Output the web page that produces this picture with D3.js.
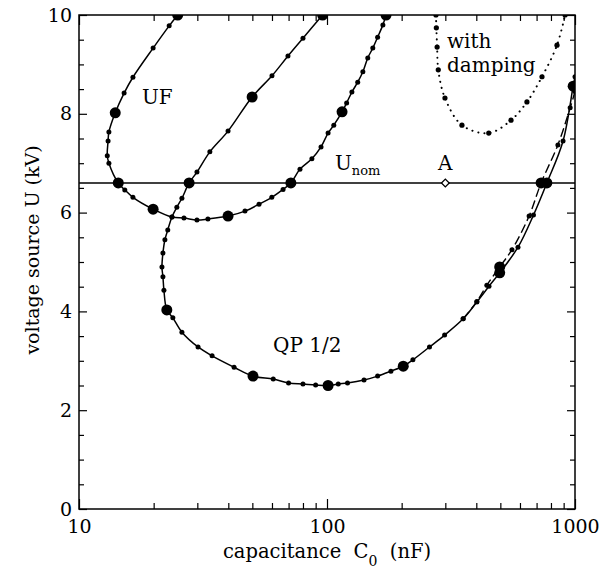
<!DOCTYPE html>
<html>
<head>
    <meta charset="utf-8">
    <title>U vs C0</title>
    <script src="https://d3js.org/d3.v7.min.js"></script>
    <style>
        body { margin: 0; background: #fff; }
        svg { display: block; }
        svg text { font-family: "DejaVu Serif", "Liberation Serif", serif; }
    </style>
</head>
<body>
<svg id="chart" width="602" height="569"></svg>

<script>
    // curva UF (nF, kV)
    const ufC = [25.0, 23.1, 19.9, 16.5, 15.2, 14.0, 13.2, 13.1, 13.0, 13.2, 14.4, 15.3, 16.5, 19.9, 23.7, 26.5, 29.9, 33.1, 39.9, 46.7, 53.2, 59.9, 66.5, 71.5, 77.8, 86.9, 94.6, 101, 106.5, 115, 120, 126, 133, 139.5, 146, 153, 160, 168, 173];
    const ufU = [10.0, 9.78, 9.33, 8.74, 8.42, 8.02, 7.63, 7.45, 7.15, 7.0, 6.6, 6.46, 6.31, 6.07, 5.91, 5.89, 5.85, 5.87, 5.93, 6.03, 6.17, 6.31, 6.47, 6.6, 6.88, 7.09, 7.33, 7.61, 7.77, 8.04, 8.22, 8.44, 8.64, 8.85, 9.13, 9.33, 9.55, 9.80, 10.0];

    // curva QP 1/2
    const qpC = [96, 80, 69.6, 60, 49.9, 39.9, 33.7, 29.9, 27.8, 26.0, 24.8, 23.7, 22.8, 22.2, 21.8, 21.6, 21.8, 22.0, 22.6, 23.9, 26.0, 30.2, 34.4, 42.2, 50.3, 60.7, 70, 80, 90, 101, 111, 121, 141, 160, 181, 203, 222, 259, 298, 354, 402, 450, 497, 589, 680, 770, 895, 983, 1000];
    const qpU = [10.0, 9.53, 9.17, 8.77, 8.34, 7.65, 7.23, 6.82, 6.6, 6.29, 6.11, 5.91, 5.65, 5.45, 5.18, 4.9, 4.7, 4.43, 4.03, 3.87, 3.58, 3.28, 3.10, 2.87, 2.69, 2.63, 2.55, 2.53, 2.51, 2.5, 2.53, 2.55, 2.61, 2.69, 2.79, 2.89, 3.02, 3.28, 3.52, 3.85, 4.19, 4.51, 4.78, 5.3, 5.95, 6.6, 7.45, 8.56, 8.75];

    // rama discontinua (QP 1/2, variante)
    const dashC = [354, 402, 441, 497, 557, 653, 730, 853, 956, 1000];
    const dashU = [3.85, 4.2, 4.53, 4.9, 5.25, 5.93, 6.6, 7.37, 8.12, 8.45];

    // con amortiguamiento
    const dampC = [275, 276, 278, 281, 299, 350, 449, 552, 640, 736, 846, 912];
    const dampU = [10.0, 9.74, 9.35, 8.89, 8.32, 7.77, 7.61, 7.87, 8.24, 8.75, 9.39, 10.0];

    // puntos grandes
    const bigC = [25.0, 14.0, 14.4, 19.9, 39.9, 71.5, 115, 173, 96, 27.8, 49.9, 22.6, 50.3, 101, 203, 497, 497, 770, 730, 983];
    const bigU = [10.0, 8.02, 6.6, 6.07, 5.93, 6.6, 8.04, 10.0, 10.0, 6.6, 8.34, 4.03, 2.69, 2.5, 2.89, 4.78, 4.9, 6.6, 6.6, 8.56];

    const uNom = 6.6;
    const pointA = [300, 6.6];

    const xMajor = [10, 100, 1000];
    const xMinor = [20, 30, 40, 50, 60, 70, 80, 90, 200, 300, 400, 500, 600, 700, 800, 900];
    const yMajor = [0, 2, 4, 6, 8, 10];
    const yMinor = [0.5, 1, 1.5, 2.5, 3, 3.5, 4.5, 5, 5.5, 6.5, 7, 7.5, 8.5, 9, 9.5];

    const FONT = "DejaVu Serif, Liberation Serif, serif";
    const svg = d3.select("#chart");
    const mLeft = 79, mRight = 575, mTop = 15, mBottom = 509;

    const x = d3.scaleLog().domain([10, 1000]).range([mLeft, mRight]);
    const y = d3.scaleLinear().domain([0, 10]).range([mBottom, mTop]);

    svg.append("defs").append("clipPath").attr("id", "plot")
        .append("rect").attr("x", mLeft).attr("y", mTop)
        .attr("width", mRight - mLeft).attr("height", mBottom - mTop);

    const plot = svg.append("g").attr("clip-path", "url(#plot)");

    const line = d3.line()
        .x(d => x(d[0]))
        .y(d => y(d[1]))
        .curve(d3.curveCatmullRom.alpha(0.5));

    const zip = (cs, us) => cs.map((c, i) => [c, us[i]]);

    // linea U_nom
    plot.append("line")
        .attr("x1", mLeft).attr("x2", mRight)
        .attr("y1", y(uNom)).attr("y2", y(uNom))
        .attr("stroke", "#000").attr("stroke-width", 1.4);

    // curvas solidas
    [zip(ufC, ufU), zip(qpC, qpU)].forEach(pts => {
        plot.append("path").datum(pts)
            .attr("fill", "none").attr("stroke", "#000").attr("stroke-width", 1.5)
            .attr("d", line);
    });

    plot.append("path").datum(zip(dashC, dashU))
        .attr("fill", "none").attr("stroke", "#000").attr("stroke-width", 1.4)
        .attr("stroke-dasharray", "9,4")
        .attr("d", line);

    plot.append("path").datum(zip(dampC, dampU))
        .attr("fill", "none").attr("stroke", "#000").attr("stroke-width", 2)
        .attr("stroke-linecap", "round")
        .attr("stroke-dasharray", "0.1,6")
        .attr("d", line);

    // puntos pequenos
    const small = zip(ufC, ufU).concat(zip(qpC, qpU), zip(dashC, dashU));
    plot.selectAll("circle.small").data(small).enter().append("circle")
        .attr("class", "small")
        .attr("cx", d => x(d[0])).attr("cy", d => y(d[1]))
        .attr("r", 2.5).attr("fill", "#000");

    plot.selectAll("circle.damp").data(zip(dampC, dampU)).enter().append("circle")
        .attr("class", "damp")
        .attr("cx", d => x(d[0])).attr("cy", d => y(d[1]))
        .attr("r", 2.6).attr("fill", "#000");

    plot.selectAll("circle.big").data(zip(bigC, bigU)).enter().append("circle")
        .attr("class", "big")
        .attr("cx", d => x(d[0])).attr("cy", d => y(d[1]))
        .attr("r", 5.5).attr("fill", "#000");

    // punto A (rombo)
    plot.append("path")
        .attr("transform", `translate(${x(pointA[0])},${y(pointA[1])}) rotate(45)`)
        .attr("d", d3.symbol().type(d3.symbolSquare).size(30))
        .attr("fill", "#fff").attr("stroke", "#000").attr("stroke-width", 1.3);

    // ejes
    function styleAxis(g) {
        g.attr("font-family", FONT);
        g.select(".domain").remove();
        g.selectAll("line").attr("stroke", "#000").attr("stroke-width", 1.2);
        g.selectAll("text").attr("font-family", FONT)
            .attr("font-size", 19).attr("fill", "#000");
    }

    svg.append("g").attr("transform", `translate(0,${mBottom})`)
        .call(d3.axisBottom(x).tickValues(xMajor).tickSize(-10).tickPadding(11).tickFormat(d3.format("d")))
        .call(styleAxis);
    svg.append("g").attr("transform", `translate(0,${mBottom})`)
        .call(d3.axisBottom(x).tickValues(xMinor).tickSize(-6).tickFormat(""))
        .call(styleAxis);
    svg.append("g").attr("transform", `translate(0,${mTop})`)
        .call(d3.axisTop(x).tickValues(xMajor).tickSize(-10).tickFormat(""))
        .call(styleAxis);
    svg.append("g").attr("transform", `translate(0,${mTop})`)
        .call(d3.axisTop(x).tickValues(xMinor).tickSize(-6).tickFormat(""))
        .call(styleAxis);

    svg.append("g").attr("transform", `translate(${mLeft},0)`)
        .call(d3.axisLeft(y).tickValues(yMajor).tickSize(-8).tickPadding(7).tickFormat(d3.format("d")))
        .call(styleAxis);
    svg.append("g").attr("transform", `translate(${mLeft},0)`)
        .call(d3.axisLeft(y).tickValues(yMinor).tickSize(-5).tickFormat(""))
        .call(styleAxis);
    svg.append("g").attr("transform", `translate(${mRight},0)`)
        .call(d3.axisRight(y).tickValues(yMajor).tickSize(-8).tickFormat(""))
        .call(styleAxis);
    svg.append("g").attr("transform", `translate(${mRight},0)`)
        .call(d3.axisRight(y).tickValues(yMinor).tickSize(-5).tickFormat(""))
        .call(styleAxis);

    // marco
    svg.append("rect")
        .attr("x", mLeft).attr("y", mTop)
        .attr("width", mRight - mLeft).attr("height", mBottom - mTop)
        .attr("fill", "none").attr("stroke", "#000").attr("stroke-width", 1.5);

    // textos
    const txt = (tx, ty, s, size) => svg.append("text")
        .attr("x", tx).attr("y", ty).attr("font-family", FONT)
        .attr("font-size", size || 20).attr("fill", "#000").text(s);

    txt(142, 104, "UF");
    txt(273, 352, "QP 1/2");
    txt(447, 48, "with");
    txt(447, 72, "damping");
    txt(x(pointA[0]), 170, "A").attr("text-anchor", "middle");

    const un = txt(335, 170, "U", 20);
    un.append("tspan").attr("dy", 5).attr("font-size", 13).text("nom");

    const xt = svg.append("text")
        .attr("x", (mLeft + mRight) / 2).attr("y", 558)
        .attr("font-family", FONT)
        .attr("text-anchor", "middle").attr("font-size", 19.5)
        .style("white-space", "pre");
    xt.append("tspan").text("capacitance  C");
    xt.append("tspan").attr("dy", 8).attr("font-size", 14).text("0");
    xt.append("tspan").attr("dy", -8).text("  (nF)");

    svg.append("text")
        .attr("transform", `translate(39,250) rotate(-90)`)
        .attr("font-family", FONT)
        .attr("text-anchor", "middle").attr("font-size", 19)
        .text("voltage source U (kV)");
</script>
</body>
</html>
